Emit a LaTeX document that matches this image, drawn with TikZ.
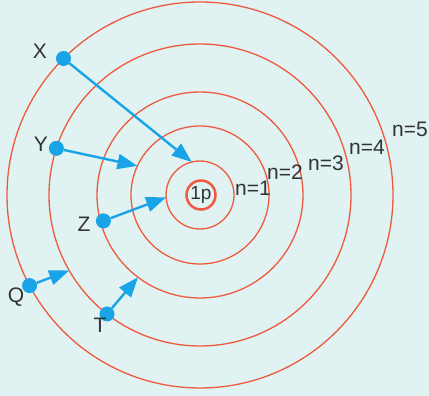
\documentclass[tikz,border=0pt]{standalone}
\usepackage{fontspec}
\setmainfont{Liberation Sans}
\usetikzlibrary{arrows.meta,calc}
\definecolor{bgcyan}{HTML}{E1F2F3}
\definecolor{orbit}{HTML}{EE5A3C}
\definecolor{eblue}{HTML}{18A4E6}
\definecolor{ink}{HTML}{333333}

\begin{document}
\begin{tikzpicture}[
          x=1pt, y=1pt,
          lbl/.style={font=\fontsize{21}{24}\selectfont, text=ink, inner sep=1pt},
          orb/.style={draw=orbit, line width=1.3pt},
          elec/.style={circle, fill=eblue, inner sep=0pt, minimum size=15pt},
          jump/.style={draw=eblue, line width=2.4pt, -{Triangle[length=20pt,width=15pt]}}
      ]
        \fill[bgcyan] (0,0) rectangle (429,396);
        \useasboundingbox (0,0) rectangle (429,396);
        \coordinate (nuc) at (200,201);
        % orbits
        \foreach \r in {34,69,103,151,193}
          \draw[orb] (nuc) circle (\r);
        \node[circle, draw=orbit, line width=2.5pt, minimum size=29pt, inner sep=0pt,
              font=\fontsize{19}{21}\selectfont, text=ink] (p) at (201,201) {1p};
        % shell labels
        \node[lbl] (n1) at (253,208) {n=1};
        \node[lbl] (n2) at (285,224) {n=2};
        \node[lbl] (n3) at (326,233) {n=3};
        \node[lbl] (n4) at (367,249) {n=4};
        \node[lbl] (n5) at (410,267) {n=5};
        % electrons
        \node[elec] (X) at ($(nuc)+(135:193)$) {};
        \node[elec] (Y) at ($(nuc)+(162:151)$) {};
        \node[elec] (Z) at ($(nuc)+(195:100)$) {};
        \node[elec] (Q) at ($(nuc)+(208:193)$) {};
        \node[elec] (T) at ($(nuc)+(232:151)$) {};
        \node[lbl] (Xl) at (40,345) {X};
        \node[lbl] (Yl) at (41,252) {Y};
        \node[lbl] (Zl) at (84,172) {Z};
        \node[lbl] (Ql) at (16,99) {Q};
        \node[lbl] (Tl) at (100,71) {T};
        % transitions
        \coordinate (Xe) at ($(nuc)+(104:34)$);
        \coordinate (Ye) at ($(nuc)+(155:69)$);
        \coordinate (Ze) at ($(nuc)+(184:34)$);
        \coordinate (Qe) at ($(nuc)+(210:151)$);
        \coordinate (Te) at ($(nuc)+(233:103)$);
        \draw[jump] (X) -- (Xe);
        \draw[jump] (Y) -- (Ye);
        \draw[jump] (Z) -- (Ze);
        \draw[jump] (Q) -- (Qe);
        \draw[jump] (T) -- (Te);
      \end{tikzpicture}
\end{document}
